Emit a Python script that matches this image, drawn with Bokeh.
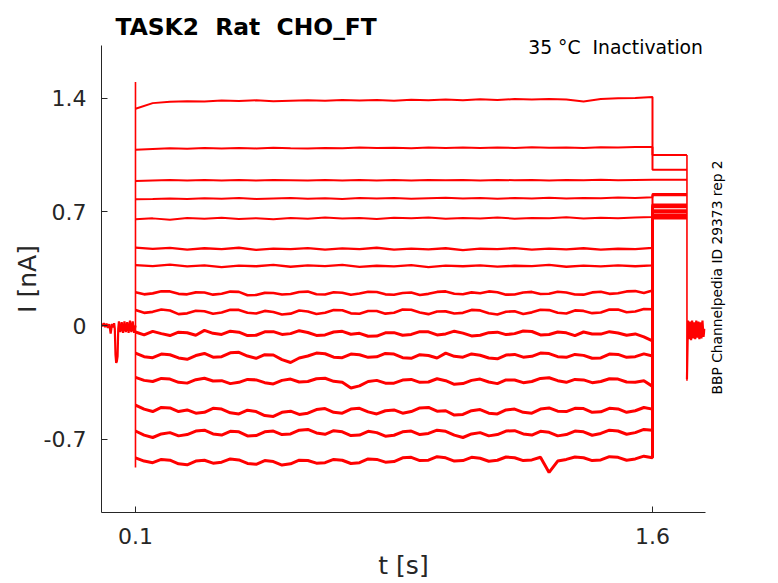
import math
from bokeh.plotting import figure
from bokeh.models import FixedTicker, Range1d
from bokeh.core.properties import value
from bokeh.embed import file_html
from bokeh.resources import INLINE

# ---------------- data ----------------
t_coarse = [0.10, 0.15, 0.20, 0.25, 0.30, 0.35, 0.40, 0.45, 0.50, 0.55,
            0.60, 0.65, 0.70, 0.75, 0.80, 0.85, 0.90, 0.95, 1.00, 1.05,
            1.10, 1.15, 1.20, 1.25, 1.30, 1.35, 1.40, 1.45, 1.50, 1.55, 1.60]
t_fine = [0.100, 0.125, 0.150, 0.175, 0.200, 0.225, 0.250, 0.275, 0.300, 0.325,
          0.350, 0.375, 0.400, 0.425, 0.450, 0.475, 0.500, 0.525, 0.550, 0.575,
          0.600, 0.625, 0.650, 0.675, 0.700, 0.725, 0.750, 0.775, 0.800, 0.825,
          0.850, 0.875, 0.900, 0.925, 0.950, 0.975, 1.000, 1.025, 1.050, 1.075,
          1.100, 1.125, 1.150, 1.175, 1.200, 1.225, 1.250, 1.275, 1.300, 1.325,
          1.350, 1.375, 1.400, 1.425, 1.450, 1.475, 1.500, 1.525, 1.550, 1.575,
          1.600]

step_traces = [
    [1.335, 1.370, 1.378, 1.382, 1.380, 1.386, 1.383, 1.387, 1.381, 1.385, 1.388, 1.384, 1.390, 1.386, 1.389, 1.385, 1.391, 1.387, 1.392, 1.388, 1.394, 1.390, 1.395, 1.392, 1.396, 1.393, 1.380, 1.395, 1.400, 1.402, 1.408],
    [1.082, 1.088, 1.092, 1.089, 1.093, 1.090, 1.094, 1.091, 1.095, 1.092, 1.090, 1.094, 1.092, 1.096, 1.093, 1.095, 1.092, 1.096, 1.094, 1.097, 1.093, 1.096, 1.094, 1.098, 1.095, 1.097, 1.094, 1.098, 1.096, 1.099, 1.100],
    [0.890, 0.893, 0.896, 0.893, 0.897, 0.894, 0.896, 0.893, 0.897, 0.895, 0.893, 0.896, 0.894, 0.897, 0.894, 0.896, 0.893, 0.897, 0.895, 0.896, 0.894, 0.897, 0.895, 0.896, 0.894, 0.897, 0.895, 0.898, 0.895, 0.897, 0.898],
    [0.778, 0.780, 0.783, 0.779, 0.784, 0.781, 0.785, 0.780, 0.783, 0.786, 0.781, 0.784, 0.780, 0.785, 0.782, 0.786, 0.781, 0.784, 0.787, 0.782, 0.785, 0.781, 0.786, 0.783, 0.787, 0.782, 0.786, 0.784, 0.788, 0.785, 0.790],
    [0.655, 0.660, 0.652, 0.662, 0.657, 0.664, 0.656, 0.661, 0.655, 0.663, 0.658, 0.666, 0.659, 0.662, 0.656, 0.664, 0.660, 0.665, 0.657, 0.662, 0.659, 0.666, 0.658, 0.663, 0.660, 0.667, 0.659, 0.664, 0.661, 0.665, 0.668],
    [0.480, 0.472, 0.478, 0.468, 0.476, 0.470, 0.479, 0.466, 0.474, 0.470, 0.477, 0.468, 0.475, 0.471, 0.479, 0.467, 0.474, 0.469, 0.476, 0.465, 0.473, 0.470, 0.477, 0.467, 0.474, 0.469, 0.476, 0.468, 0.473, 0.470, 0.478],
    [0.372, 0.366, 0.375, 0.364, 0.371, 0.360, 0.369, 0.365, 0.373, 0.362, 0.370, 0.366, 0.374, 0.361, 0.368, 0.364, 0.372, 0.360, 0.369, 0.365, 0.371, 0.363, 0.368, 0.366, 0.373, 0.362, 0.369, 0.364, 0.371, 0.365, 0.370],
    [0.205, 0.192, 0.198, 0.211, 0.210, 0.195, 0.192, 0.204, 0.203, 0.190, 0.196, 0.209, 0.207, 0.186, 0.188, 0.201, 0.200, 0.191, 0.194, 0.206, 0.209, 0.193, 0.191, 0.205, 0.202, 0.189, 0.197, 0.208, 0.206, 0.192, 0.189, 0.200, 0.203, 0.188, 0.195, 0.207, 0.210, 0.196, 0.193, 0.204, 0.199, 0.210, 0.205, 0.190, 0.191, 0.203, 0.207, 0.194, 0.196, 0.208, 0.203, 0.191, 0.190, 0.204, 0.208, 0.195, 0.199, 0.210, 0.212, 0.200, 0.215],
    [0.095, 0.078, 0.084, 0.099, 0.092, 0.070, 0.075, 0.091, 0.088, 0.072, 0.080, 0.097, 0.096, 0.079, 0.074, 0.090, 0.083, 0.068, 0.073, 0.092, 0.086, 0.071, 0.079, 0.095, 0.094, 0.075, 0.072, 0.089, 0.089, 0.073, 0.079, 0.098, 0.097, 0.080, 0.070, 0.086, 0.087, 0.074, 0.078, 0.096, 0.093, 0.076, 0.068, 0.085, 0.088, 0.071, 0.081, 0.097, 0.095, 0.079, 0.074, 0.093, 0.090, 0.076, 0.080, 0.099, 0.098, 0.082, 0.086, 0.101, 0.100],
    [-0.040, -0.058, -0.036, -0.050, -0.062, -0.041, -0.045, -0.060, -0.030, -0.048, -0.055, -0.035, -0.041, -0.062, -0.060, -0.039, -0.038, -0.055, -0.050, -0.032, -0.043, -0.061, -0.058, -0.040, -0.036, -0.054, -0.048, -0.066, -0.065, -0.045, -0.044, -0.060, -0.055, -0.038, -0.039, -0.058, -0.052, -0.035, -0.047, -0.064, -0.060, -0.044, -0.041, -0.056, -0.050, -0.034, -0.037, -0.058, -0.055, -0.040, -0.045, -0.062, -0.040, -0.052, -0.053, -0.038, -0.046, -0.060, -0.052, -0.070, -0.095],
    [-0.170, -0.192, -0.198, -0.176, -0.180, -0.200, -0.208, -0.185, -0.172, -0.195, -0.192, -0.168, -0.165, -0.188, -0.202, -0.180, -0.182, -0.210, -0.228, -0.200, -0.188, -0.170, -0.174, -0.195, -0.198, -0.176, -0.180, -0.196, -0.193, -0.172, -0.176, -0.198, -0.202, -0.180, -0.185, -0.200, -0.170, -0.190, -0.195, -0.175, -0.183, -0.200, -0.205, -0.182, -0.178, -0.195, -0.190, -0.170, -0.173, -0.192, -0.196, -0.178, -0.184, -0.202, -0.200, -0.176, -0.178, -0.196, -0.192, -0.175, -0.188],
    [-0.320, -0.338, -0.345, -0.326, -0.330, -0.350, -0.355, -0.334, -0.325, -0.342, -0.340, -0.358, -0.350, -0.332, -0.335, -0.352, -0.360, -0.338, -0.330, -0.348, -0.345, -0.328, -0.325, -0.344, -0.350, -0.385, -0.372, -0.345, -0.338, -0.355, -0.355, -0.336, -0.332, -0.350, -0.348, -0.328, -0.340, -0.362, -0.358, -0.338, -0.330, -0.348, -0.358, -0.335, -0.336, -0.352, -0.345, -0.326, -0.322, -0.340, -0.350, -0.332, -0.335, -0.352, -0.345, -0.328, -0.330, -0.348, -0.350, -0.340, -0.375],
    [-0.490, -0.515, -0.530, -0.505, -0.508, -0.530, -0.520, -0.540, -0.535, -0.510, -0.515, -0.538, -0.545, -0.522, -0.530, -0.555, -0.560, -0.535, -0.528, -0.548, -0.540, -0.518, -0.512, -0.535, -0.540, -0.515, -0.510, -0.532, -0.545, -0.525, -0.520, -0.540, -0.530, -0.508, -0.505, -0.528, -0.525, -0.552, -0.548, -0.525, -0.518, -0.540, -0.545, -0.520, -0.515, -0.535, -0.540, -0.515, -0.508, -0.528, -0.530, -0.510, -0.512, -0.535, -0.532, -0.510, -0.514, -0.535, -0.525, -0.505, -0.515],
    [-0.650, -0.675, -0.690, -0.668, -0.660, -0.680, -0.672, -0.650, -0.645, -0.668, -0.675, -0.652, -0.655, -0.680, -0.678, -0.655, -0.650, -0.672, -0.668, -0.645, -0.640, -0.662, -0.670, -0.648, -0.655, -0.678, -0.675, -0.652, -0.660, -0.682, -0.676, -0.655, -0.650, -0.672, -0.665, -0.645, -0.652, -0.675, -0.690, -0.668, -0.660, -0.680, -0.672, -0.650, -0.648, -0.668, -0.675, -0.652, -0.658, -0.680, -0.672, -0.650, -0.655, -0.676, -0.665, -0.645, -0.650, -0.670, -0.660, -0.640, -0.645],
    [-0.815, -0.835, -0.845, -0.825, -0.830, -0.852, -0.858, -0.835, -0.830, -0.848, -0.842, -0.822, -0.828, -0.850, -0.855, -0.832, -0.838, -0.860, -0.852, -0.830, -0.832, -0.848, -0.845, -0.825, -0.830, -0.850, -0.845, -0.822, -0.825, -0.842, -0.838, -0.815, -0.812, -0.832, -0.830, -0.808, -0.815, -0.835, -0.832, -0.812, -0.818, -0.836, -0.830, -0.810, -0.815, -0.832, -0.828, -0.812, -0.905, -0.835, -0.825, -0.810, -0.815, -0.832, -0.828, -0.808, -0.812, -0.830, -0.822, -0.805, -0.815],
]

t_tail = [1.600, 1.625, 1.650, 1.675, 1.700]
tail_levels = [1.051, 0.959, 0.898, 0.810, 0.802, 0.745, 0.737, 0.730,
               0.708, 0.700, 0.680, 0.672, 0.668, 0.665, 0.662]

t_pre = [0.000, 0.004, 0.008, 0.012, 0.016, 0.020, 0.024, 0.028, 0.032, 0.036,
         0.038, 0.040, 0.042, 0.044, 0.046, 0.048, 0.050, 0.052, 0.056, 0.060,
         0.064, 0.068, 0.072, 0.076, 0.080, 0.084, 0.088, 0.092, 0.096, 0.100]
i_pre = [0.010, -0.005, 0.015, -0.010, 0.012, -0.015, 0.008, -0.050, 0.010, -0.012,
         0.015, -0.020, -0.180, -0.230, -0.220, -0.190, -0.020, 0.025, -0.040, 0.020,
         -0.045, 0.025, -0.040, 0.020, -0.045, 0.030, -0.040, 0.025, -0.045, 0.000]

t_post = [1.700, 1.703, 1.706, 1.709, 1.712, 1.715, 1.718, 1.721, 1.724, 1.727,
          1.730, 1.733, 1.736, 1.739, 1.742, 1.745, 1.748, 1.751]
i_post = [-0.330, 0.030, -0.085, 0.025, -0.090, 0.030, -0.080, 0.020, -0.085, 0.030,
          -0.075, 0.025, -0.085, 0.020, -0.080, 0.030, -0.070, -0.020]

onset_t = [0.1, 0.1]
onset_i = [-0.875, 1.500]
offset_t = [1.7, 1.7]
offset_i = [-0.340, 1.051]

y_ticks = [-0.7, 0.0, 0.7, 1.4]
y_tick_labels = ["-0.7", "0", "0.7", "1.4"]
x_ticks = [0.1, 1.6]
x_tick_labels = ["0.1", "1.6"]

title_text = "TASK2\u00a0 Rat\u00a0 CHO_FT"
subtitle_text = "35 \u00b0C\u00a0 Inactivation"
side_text = "BBP Channelpedia ID 29373 rep 2"

# ---------------- figure ----------------
FONT = "DejaVu Sans"
RED = "#ff0000"
DARK = "#262626"

p = figure(width=778, height=583, output_backend="svg", toolbar_location=None,
           x_range=Range1d(0.0014, 1.7538), y_range=Range1d(-1.152, 1.725),
           min_border_left=101, min_border_right=73, min_border_top=45,
           min_border_bottom=71)
p.outline_line_color = None
p.xgrid.visible = False
p.ygrid.visible = False
p.background_fill_color = "white"
p.border_fill_color = "white"

# traces
p.line(t_pre, i_pre, line_color=RED, line_width=2.2)
p.line(t_post, i_post, line_color=RED, line_width=2.2)
p.line(onset_t, onset_i, line_color=RED, line_width=1.6)
p.line(offset_t, offset_i, line_color=RED, line_width=1.6)
for k, (tr, tl) in enumerate(zip(step_traces, tail_levels)):
    tt = t_fine if len(tr) == len(t_fine) else t_coarse
    n = min(len(tt), len(tr))
    xs = list(tt[:n]) + t_tail
    ys = list(tr[:n]) + [tl] * len(t_tail)
    if k < 5:
        lw = 2.0
    elif k < 7:
        lw = 2.3
    elif k < 9:
        lw = 2.6
    else:
        lw = 3.0
    p.line(xs, ys, line_color=RED, line_width=lw)

# axes
for ax in (p.xaxis[0], p.yaxis[0]):
    ax.axis_line_color = DARK
    ax.axis_line_width = 1
    ax.major_tick_line_color = DARK
    ax.major_tick_in = 6
    ax.major_tick_out = 0
    ax.minor_tick_line_color = None
    ax.major_label_text_font = FONT
    ax.major_label_text_color = DARK
    ax.major_label_text_font_size = "22px"
    ax.axis_label_text_font = FONT
    ax.axis_label_text_color = DARK
    ax.axis_label_text_font_size = "25px"
    ax.axis_label_text_font_style = "normal"

p.yaxis[0].ticker = FixedTicker(ticks=y_ticks)
p.yaxis[0].major_label_overrides = {v: s for v, s in zip(y_ticks, y_tick_labels)}
p.yaxis[0].major_label_standoff = 15
p.yaxis[0].axis_label = "I [nA]"
p.yaxis[0].axis_label_standoff = -1

p.xaxis[0].ticker = FixedTicker(ticks=x_ticks)
p.xaxis[0].major_label_overrides = {v: s for v, s in zip(x_ticks, x_tick_labels)}
p.xaxis[0].major_label_standoff = 15
p.xaxis[0].axis_label = "t [s]"
p.xaxis[0].axis_label_standoff = 4

# texts outside the axes box (overlay level so they are not clipped)
p.text(x=[0.042], y=[1.8378], text=[title_text], text_font=value(FONT),
       text_font_size=value("23.4px"), text_font_style="bold",
       text_color="black", text_align="left", text_baseline="alphabetic",
       level="overlay")
p.text(x=[1.7466], y=[1.7127], text=[subtitle_text], text_font=value(FONT),
       text_font_size=value("18.8px"), text_color="black",
       text_align="right", text_baseline="alphabetic", level="overlay")
p.text(x=[1.7886], y=[0.296], text=[side_text], text_font=value(FONT),
       text_font_size=value("13.8px"), text_color="black",
       text_align="center", text_baseline="middle", angle=math.pi / 2,
       level="overlay")

open("out.html", "w").write(file_html(p, INLINE))
